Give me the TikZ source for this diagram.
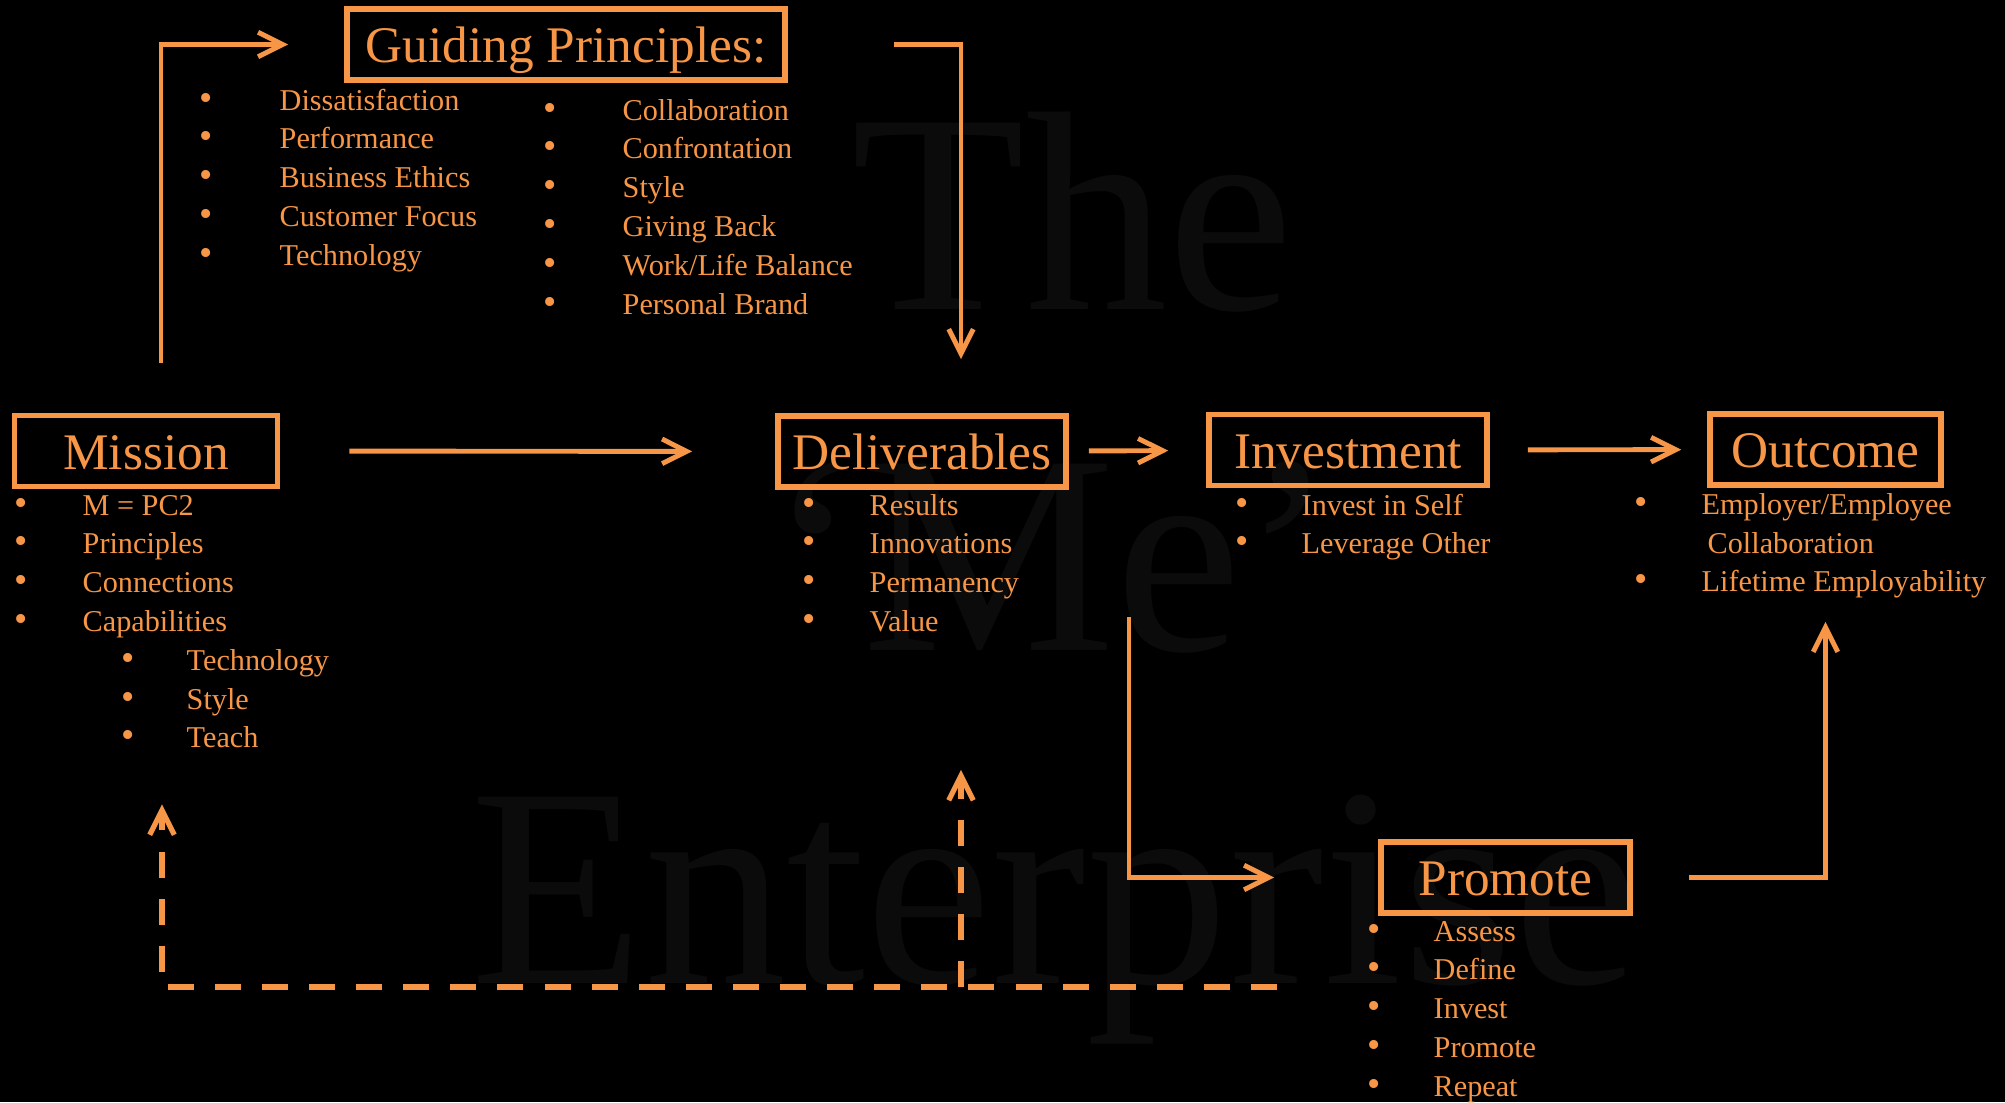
\documentclass[tikz,border=0pt]{standalone}
\usepackage{fontspec}
\setmainfont{Liberation Serif}
\usepackage{xcolor}
\usepackage{tikz}
\usetikzlibrary{arrows.meta}
\definecolor{accent}{RGB}{247, 150, 70}
\definecolor{shadow}{RGB}{11, 11, 11}
\tikzstyle{stage} = [
    rectangle,
    minimum height=0.71cm,
    inner sep=0pt,
    text height=10.3pt,
    text depth=0pt,
    draw=accent,
    line width=1.6pt,
    text=accent,
    font=\fontsize{14.6}{18}\selectfont
]
\tikzstyle{arrow} = [
    line width=1.4pt,
    -{Straight Barb[length=7pt, width=7pt]},
    color=accent
]
\tikzstyle{loopback} = [
    arrow,
    line width=1.5pt,
    dash pattern=on 7.4pt off 6pt
]
\tikzstyle{listitem} = [
    anchor=base west,
    inner sep=0pt,
    text=accent,
    font=\fontsize{8.6}{11}\selectfont
]
\tikzstyle{watermark} = [
    anchor=base,
    inner sep=0pt,
    text=shadow,
    font=\fontsize{81}{90}\selectfont
]
\newcommand{\bitem}[2][0.67cm]{\makebox[#1][l]{\scalebox{1.25}{\textbullet}}#2}

\begin{document}
\begin{tikzpicture}
        \useasboundingbox (0,0) rectangle (20.05,-11.02);
        \fill[black] (0,0) rectangle (20.05,-11.02);

        % Background lettering
        \node[watermark] (wthe) at (10.73, -3.09) {The};
        \node[watermark] (wme) at (10.52, -6.50) {‘Me’};
        \node[watermark] (went) at (10.55, -9.83) {Enterprise};

        % Stages
        \node[stage, minimum width=4.38cm] (guiding) at (5.66, -0.445) {Guiding Principles:};
        \node[stage, minimum width=2.63cm] (mission) at (1.46, -4.51) {Mission};
        \node[stage, minimum width=2.88cm] (deliverables) at (9.22, -4.515) {Deliverables};
        \node[stage, minimum width=2.78cm] (investment) at (13.48, -4.50) {Investment};
        \node[stage, minimum width=2.31cm] (outcome) at (18.255, -4.495) {Outcome};
        \node[stage, minimum width=2.49cm] (promote) at (15.055, -8.775) {Promote};

        % Lists below
        \foreach \txt [count=\i from 0] in {Dissatisfaction, Performance, Business Ethics, Customer Focus, Technology}
            \node[listitem] (gpa\i) at (1.99, {-1.10-0.388*\i}) {\bitem[0.80cm]{\txt}};
        \foreach \txt [count=\i from 0] in {Collaboration, Confrontation, Style, Giving Back, Work/Life Balance, Personal Brand}
            \node[listitem] (gpb\i) at (5.43, {-1.20-0.388*\i}) {\bitem[0.79cm]{\txt}};
        \foreach \txt [count=\i from 0] in {M = PC2, Principles, Connections, Capabilities}
            \node[listitem] (ms\i) at (0.14, {-5.15-0.388*\i}) {\bitem[0.68cm]{\txt}};
        \foreach \txt [count=\i from 4] in {Technology, Style, Teach}
            \node[listitem] (ms\i) at (1.21, {-5.15-0.388*\i}) {\bitem[0.65cm]{\txt}};
        \foreach \txt [count=\i from 0] in {Results, Innovations, Permanency, Value}
            \node[listitem] (dl\i) at (8.02, {-5.15-0.388*\i}) {\bitem{\txt}};
        \foreach \txt [count=\i from 0] in {Invest in Self, Leverage Other}
            \node[listitem] (iv\i) at (12.35, {-5.15-0.388*\i}) {\bitem[0.66cm]{\txt}};
        \node[listitem] (oc0) at (16.34, -5.145) {\bitem{Employer/Employee}};
        \node[listitem] (oc1) at (17.07, -5.53) {Collaboration};
        \node[listitem] (oc2) at (16.34, -5.91) {\bitem{Lifetime Employability}};
        \foreach \txt [count=\i from 0] in {Assess, Define, Invest, Promote, Repeat}
            \node[listitem] (pr\i) at (13.67, {-9.41-0.388*\i}) {\bitem[0.66cm]{\txt}};

        % Arrows
        \coordinate (split) at (11.29, -6.17);
        \coordinate (loop) at (12.77, -9.87);
        \coordinate (delivfoot) at ([xshift=0.39cm]deliverables.south);
        \draw[arrow, shorten <=0.50cm, shorten >=0.56cm] ([xshift=0.15cm]mission.north) |- (guiding.west);
        \draw[arrow, shorten <=1.06cm, shorten >=0.54cm] (guiding.east) -| ([xshift=0.39cm]deliverables.north);
        \draw[arrow, shorten <=0.69cm, shorten >=0.83cm] (mission) -- (deliverables);
        \draw[arrow, shorten <=0.20cm, shorten >=0.38cm] (deliverables) -- (investment);
        \draw[arrow, shorten <=0.38cm, shorten >=0.26cm] (investment) -- (outcome);
        \draw[arrow, shorten >=1.04cm] (split) |- (promote.west);
        \draw[arrow, shorten <=0.56cm, shorten >=1.34cm] (promote.east) -| (outcome.south);

        % Feedback
        \draw[loopback, shorten >=3.15cm] (loop) -| ([xshift=0.16cm]mission.south);
        \draw[loopback, shorten >=2.80cm] (delivfoot |- loop) -- (delivfoot);
    \end{tikzpicture}
\end{document}
